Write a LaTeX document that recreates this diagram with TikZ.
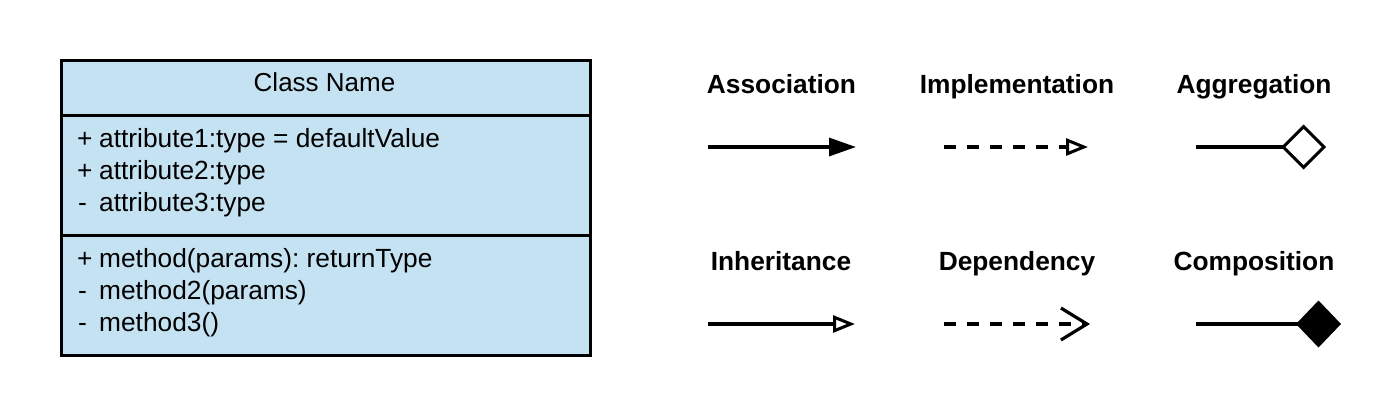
\documentclass[tikz,border=0pt]{standalone}
\usepackage{fontspec}
\setmainfont{Liberation Sans}
\usetikzlibrary{arrows.meta}
\definecolor{classblue}{RGB}{197,226,243}
\frenchspacing
\begin{document}
\begin{tikzpicture}[x=1pt,y=-1pt,
  compart/.style={draw=black,line width=3.3pt,fill=classblue,rectangle,inner sep=0pt,minimum width=529pt,anchor=north west},
  txt/.style={inner sep=0pt,anchor=base west,font=\fontsize{26.3}{30}\selectfont\frenchspacing},
  lbl/.style={inner sep=0pt,anchor=base,font=\fontsize{26.3}{30}\selectfont\bfseries},
  conn/.style={line width=3.2pt},
  dashy/.style={line width=3.6pt,dash pattern=on 12pt off 11pt}]
\useasboundingbox (0,0) rectangle (1400,412);
% class box
\node[compart,minimum height=55pt] (head) at (60,59) {};
\node[compart,minimum height=120pt] (attrs) at (60,114) {};
\node[compart,minimum height=119.5pt] (meths) at (60,234) {};
\node[inner sep=0pt,anchor=base,font=\fontsize{26}{30}\selectfont] (cname) at (324.5,92) {Class Name};
\node[txt] (s1) at (77,147) {+};
\node[txt] (t1) at (99,147) {attribute1:type = defaultValue};
\node[txt] (s2) at (77,179) {+};
\node[txt] (t2) at (99,179) {attribute2:type};
\node[txt] (s3) at (78,211) {-};
\node[txt] (t3) at (99,211) {attribute3:type};
\node[txt] (s4) at (77,267) {+};
\node[txt] (t4) at (99,267) {method(params): returnType};
\node[txt] (s5) at (78,299) {-};
\node[txt] (t5) at (99,299) {method2(params)};
\node[txt] (s6) at (78,331) {-};
\node[txt] (t6) at (99,331) {method3()};
% labels
\node[lbl] (lassoc) at (781.5,93.5) {Association};
\node[lbl] (limpl) at (1017,93.5) {Implementation};
\node[lbl] (laggr) at (1254,93.5) {Aggregation};
\node[lbl] (linh) at (781,270.5) {Inheritance};
\node[lbl] (ldep) at (1017,270.5) {Dependency};
\node[lbl] (lcomp) at (1254,270.5) {Composition};
% connector end points
\coordinate (a1) at (708,147); \coordinate (a2) at (856,147);
\coordinate (i1) at (944,147); \coordinate (i2) at (1088,147);
\coordinate (g1) at (1196,147); \coordinate (g2) at (1326,147);
\coordinate (h1) at (708,324); \coordinate (h2) at (855,324);
\coordinate (d1) at (944,324); \coordinate (d2) at (1090,324);
\coordinate (c1) at (1196,324); \coordinate (c2) at (1341,324);
\draw[conn,-{Triangle[length=27pt,width=18pt]}] (a1) -- (a2);
\draw[dashy,-{Triangle[open,length=22pt,width=17pt,line width=3pt]}] (i1) -- (i2);
\draw[conn,-{Diamond[open,length=45pt,width=45pt,line width=3pt]}] (g1) -- (g2);
\draw[conn,-{Triangle[open,length=22pt,width=17pt,line width=3pt]}] (h1) -- (h2);
\draw[dashy,-{Straight Barb[length=26pt,width=32pt,line width=3.2pt]}] (d1) -- (d2);
\draw[conn,-{Diamond[length=45pt,width=47pt]}] (c1) -- (c2);
\end{tikzpicture}
\end{document}
